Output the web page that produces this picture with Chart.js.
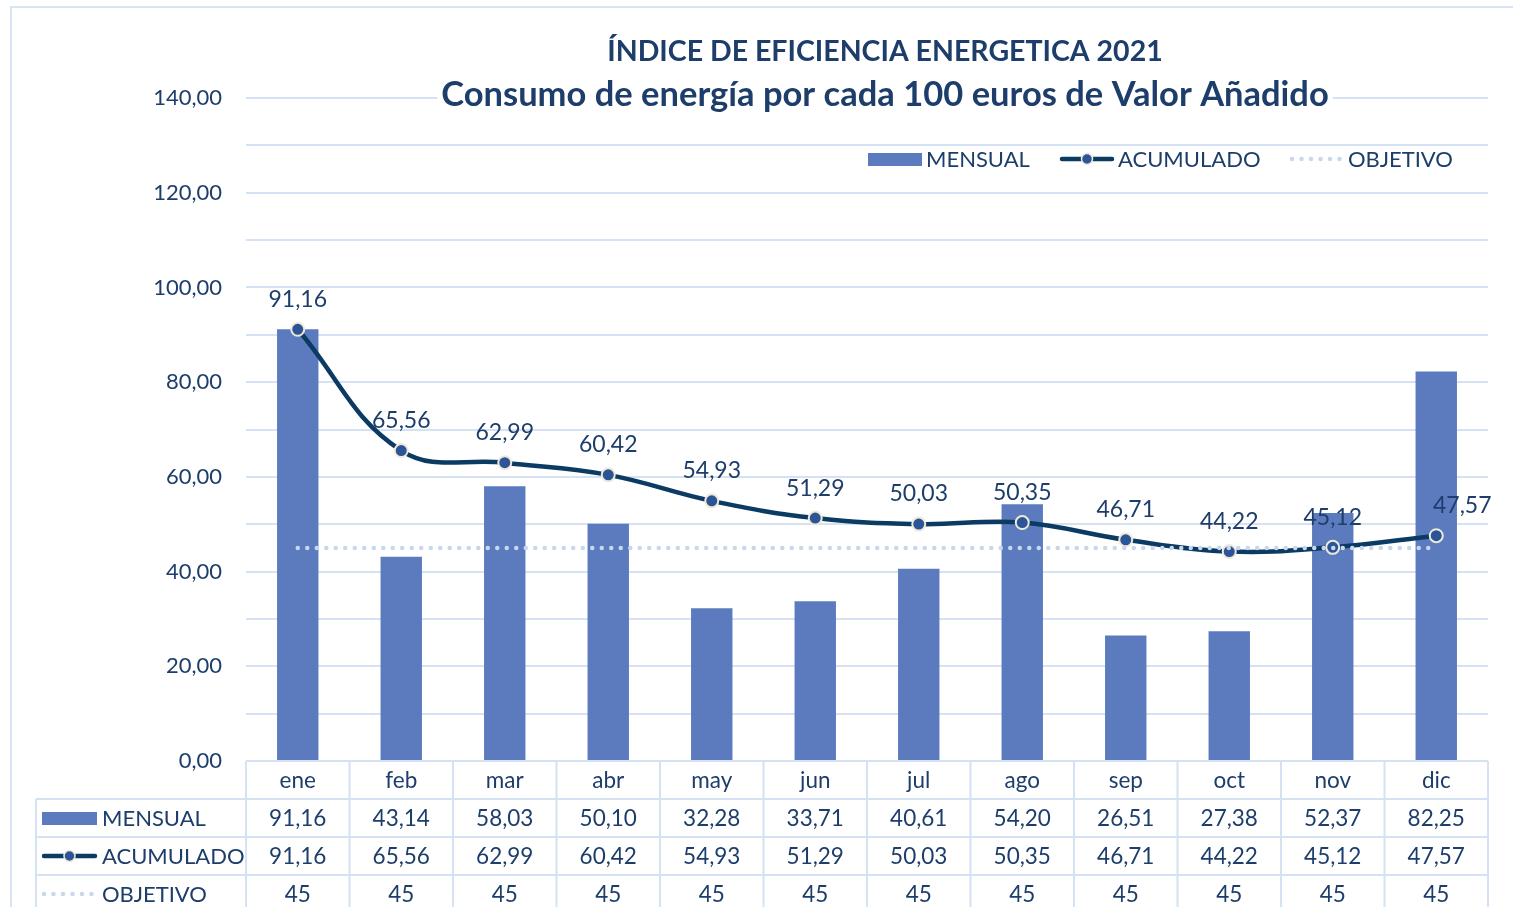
<!DOCTYPE html>
<html lang="es">
<head>
<meta charset="UTF-8">
<title>Índice de eficiencia energética 2021</title>
<script src="https://cdn.jsdelivr.net/npm/chart.js"></script>
<style>
  body { margin: 0; background: #fff; }
  canvas { display: block; }
</style>
</head>
<body>
<canvas id="chart" width="1513" height="907"></canvas>
<script>
const months = ['ene', 'feb', 'mar', 'abr', 'may', 'jun', 'jul', 'ago', 'sep', 'oct', 'nov', 'dic'];
const mensual = [91.16, 43.14, 58.03, 50.10, 32.28, 33.71, 40.61, 54.20, 26.51, 27.38, 52.37, 82.25];
const acumulado = [91.16, 65.56, 62.99, 60.42, 54.93, 51.29, 50.03, 50.35, 46.71, 44.22, 45.12, 47.57];
const objetivo = [45, 45, 45, 45, 45, 45, 45, 45, 45, 45, 45, 45];
const seriesNames = ['MENSUAL', 'ACUMULADO', 'OBJETIVO'];

const FONT = 'Lato, "Noto Sans", sans-serif';
const TEXT = '#1d3d6b';
const BAR = '#5b7bbe';
const LINE = '#0b3a63';
const MARKER = '#2b5596';
const GOAL = '#c6d7ee';
const GRID = '#d4e2f4';

const fmt = v => v.toFixed(2).replace('.', ',');

function drawSymbol(ctx, i, x0, x1, y) {
  ctx.save();
  if (i === 0) {
    ctx.fillStyle = BAR;
    ctx.fillRect(x0, y - 6, x1 - x0, 13);
  } else if (i === 1) {
    ctx.strokeStyle = LINE;
    ctx.lineWidth = 4.5;
    ctx.lineCap = 'round';
    ctx.beginPath(); ctx.moveTo(x0 + 2, y); ctx.lineTo(x1 - 2, y); ctx.stroke();
    ctx.fillStyle = MARKER;
    ctx.strokeStyle = '#efe9d9';
    ctx.lineWidth = 1.5;
    ctx.beginPath(); ctx.arc((x0 + x1) / 2, y, 5.5, 0, Math.PI * 2); ctx.fill(); ctx.stroke();
  } else {
    ctx.strokeStyle = GOAL;
    ctx.lineWidth = 4.5;
    ctx.lineCap = 'round';
    ctx.setLineDash([0, 9.5]);
    ctx.beginPath(); ctx.moveTo(x0 + 2, y); ctx.lineTo(x1, y); ctx.stroke();
  }
  ctx.restore();
}

// etiquetas del acumulado, encima de cada punto
const labelPlugin = {
  id: 'acumLabels',
  afterDatasetsDraw(chart) {
    const ctx = chart.ctx;
    const meta = chart.getDatasetMeta(1);
    ctx.save();
    ctx.font = '23px ' + FONT;
    ctx.fillStyle = TEXT;
    ctx.textAlign = 'center';
    ctx.textBaseline = 'middle';
    meta.data.forEach((pt, i) => {
      const dx = i === meta.data.length - 1 ? 26 : 0;
      ctx.fillText(fmt(acumulado[i]), pt.x + dx, pt.y - 30);
    });
    ctx.restore();
  }
};

// titulo, leyenda, tabla de datos y marco
const decoPlugin = {
  id: 'deco',
  afterDraw(chart) {
    const ctx = chart.ctx;
    const area = chart.chartArea;
    const xs = chart.scales.x;
    ctx.save();

    // marco exterior
    ctx.strokeStyle = '#d6e4f5';
    ctx.lineWidth = 2;
    ctx.strokeRect(11, 7, 1510, 1000);

    // titulos
    ctx.textAlign = 'center';
    ctx.textBaseline = 'middle';
    ctx.fillStyle = TEXT;
    ctx.font = 'bold 28.5px ' + FONT;
    ctx.fillText('ÍNDICE DE EFICIENCIA ENERGETICA 2021', 885, 52);
    ctx.font = 'bold 34.5px ' + FONT;
    const sub = 'Consumo de energía por cada 100 euros de Valor Añadido';
    const w = ctx.measureText(sub).width;
    ctx.fillStyle = '#fff';
    ctx.fillRect(885 - w / 2 - 4, 78, w + 8, 36);
    ctx.fillStyle = TEXT;
    ctx.fillText(sub, 885, 95);

    // leyenda
    ctx.font = '22px ' + FONT;
    ctx.textAlign = 'left';
    const legX = [868, 1060, 1290];
    seriesNames.forEach((name, i) => {
      drawSymbol(ctx, i, legX[i], legX[i] + 54, 159);
      ctx.fillStyle = TEXT;
      ctx.fillText(name, legX[i] + 58, 160);
    });

    // tabla de datos
    const colW = (area.right - area.left) / months.length;
    const rowH = 38;
    const top = area.bottom;
    const leftCol = 36;
    ctx.strokeStyle = GRID;
    ctx.lineWidth = 2;
    ctx.beginPath();
    for (let r = 1; r <= 3; r++) {
      ctx.moveTo(leftCol, top + rowH * r);
      ctx.lineTo(area.right, top + rowH * r);
    }
    ctx.moveTo(area.left, top); ctx.lineTo(area.right, top);
    for (let c = 0; c <= months.length; c++) {
      const x = area.left + colW * c;
      ctx.moveTo(x, top); ctx.lineTo(x, 907);
    }
    ctx.moveTo(leftCol, top + rowH); ctx.lineTo(leftCol, 907);
    ctx.stroke();

    ctx.font = '22.5px ' + FONT;
    ctx.fillStyle = TEXT;
    ctx.textAlign = 'center';
    const rows = [mensual.map(fmt), acumulado.map(fmt), objetivo.map(String)];
    months.forEach((m, i) => {
      const x = xs.getPixelForValue(i);
      ctx.fillText(m, x, top + rowH / 2 + 1);
      rows.forEach((row, r) => ctx.fillText(row[i], x, top + rowH * (r + 1.5) + 1));
    });
    ctx.font = '22px ' + FONT;
    ctx.textAlign = 'left';
    seriesNames.forEach((name, r) => {
      const y = top + rowH * (r + 1.5);
      drawSymbol(ctx, r, 42, 97, y);
      ctx.fillStyle = TEXT;
      ctx.fillText(name, 102, y + 1);
    });

    ctx.restore();
  }
};

new Chart(document.getElementById('chart'), {
  type: 'bar',
  data: {
    labels: months,
    datasets: [
      {
        type: 'line',
        label: 'OBJETIVO',
        data: objetivo,
        borderColor: GOAL,
        borderWidth: 4.5,
        borderDash: [0, 9.5],
        borderCapStyle: 'round',
        pointRadius: 0,
        order: 0
      },
      {
        type: 'line',
        label: 'ACUMULADO',
        data: acumulado,
        borderColor: LINE,
        borderWidth: 4.5,
        tension: 0.4,
        pointRadius: 6.5,
        pointBackgroundColor: MARKER,
        pointBorderColor: '#efe9d9',
        pointBorderWidth: 2,
        order: 1
      },
      {
        label: 'MENSUAL',
        data: mensual,
        backgroundColor: BAR,
        barPercentage: 0.4,
        categoryPercentage: 1,
        order: 2
      }
    ]
  },
  options: {
    responsive: false,
    animation: false,
    layout: { padding: { top: 98, right: 25, bottom: 146, left: 0 } },
    plugins: {
      legend: { display: false },
      title: { display: false },
      tooltip: { enabled: false }
    },
    scales: {
      x: { display: false },
      y: {
        min: 0,
        max: 140,
        afterFit(scale) { scale.width = 246; },
        ticks: {
          stepSize: 10,
          padding: 24,
          color: TEXT,
          font: { family: FONT, size: 22 },
          callback: v => (v % 20 === 0 ? fmt(v) : '')
        },
        grid: { color: GRID, lineWidth: 2, drawTicks: false },
        border: { display: false }
      }
    }
  },
  plugins: [labelPlugin, decoPlugin]
});
</script>
</body>
</html>
